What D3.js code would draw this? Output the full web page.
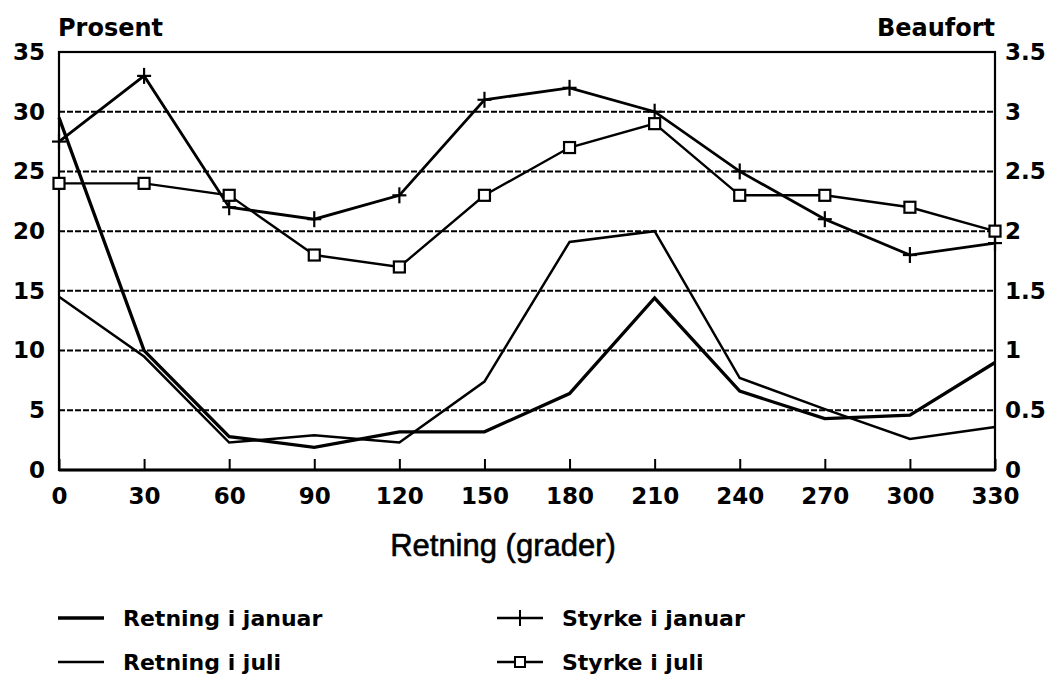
<!DOCTYPE html>
<html>
<head>
<meta charset="utf-8">
<script src="https://d3js.org/d3.v7.min.js"></script>
<style>
  html, body { margin: 0; padding: 0; background: #fff; }
  svg { display: block; }
  .tick text { font-family: "DejaVu Sans", sans-serif; font-weight: bold; font-size: 23px; fill: #000; }
</style>
</head>
<body>
<svg id="chart" width="1052" height="680"></svg>
<script>
// --- data ---
const directions = [0, 30, 60, 90, 120, 150, 180, 210, 240, 270, 300, 330];
const retningJanuar = [29.5, 10, 2.8, 1.9, 3.2, 3.2, 6.4, 14.4, 6.6, 4.3, 4.6, 9.0];
const retningJuli = [14.5, 9.5, 2.3, 2.9, 2.3, 7.4, 19.1, 20, 7.7, 5.1, 2.6, 3.6];
const styrkeJanuar = [2.75, 3.3, 2.2, 2.1, 2.3, 3.1, 3.2, 3.0, 2.5, 2.1, 1.8, 1.9];
const styrkeJuli = [2.4, 2.4, 2.3, 1.8, 1.7, 2.3, 2.7, 2.9, 2.3, 2.3, 2.2, 2.0];
const prosentTicks = [0, 5, 10, 15, 20, 25, 30, 35];
const beaufortTicks = [0, 0.5, 1, 1.5, 2, 2.5, 3, 3.5];
const gridValues = [5, 10, 15, 20, 25, 30];

const svg = d3.select("#chart");
const plotLeft = 59, plotRight = 995, plotTop = 52, plotBottom = 470;

const x = d3.scaleLinear().domain([0, 330]).range([plotLeft, plotRight]);
const yL = d3.scaleLinear().domain([0, 35]).range([plotBottom, plotTop]);
const yR = d3.scaleLinear().domain([0, 3.5]).range([plotBottom, plotTop]);

// dashed grid lines
svg.append("g")
  .selectAll("line")
  .data(gridValues)
  .join("line")
  .attr("x1", plotLeft).attr("x2", plotRight)
  .attr("y1", d => yL(d)).attr("y2", d => yL(d))
  .attr("stroke", "#000")
  .attr("stroke-width", 2)
  .attr("stroke-dasharray", "6,2");

// frame
svg.append("rect")
  .attr("x", plotLeft).attr("y", plotTop)
  .attr("width", plotRight - plotLeft).attr("height", plotBottom - plotTop)
  .attr("fill", "none").attr("stroke", "#000").attr("stroke-width", 2.2);
svg.append("line")
  .attr("x1", plotLeft).attr("x2", plotRight).attr("y1", plotBottom).attr("y2", plotBottom)
  .attr("stroke", "#000").attr("stroke-width", 3);

// axes
const axL = svg.append("g").attr("transform", `translate(${plotLeft},0)`)
  .call(d3.axisLeft(yL).tickValues(prosentTicks).tickSize(0).tickPadding(14));
const axR = svg.append("g").attr("transform", `translate(${plotRight},0)`)
  .call(d3.axisRight(yR).tickValues(beaufortTicks).tickSize(0).tickPadding(10)
    .tickFormat(d3.format("")));
const axB = svg.append("g").attr("transform", `translate(0,${plotBottom})`)
  .call(d3.axisBottom(x).tickValues(directions).tickSizeInner(-11).tickSizeOuter(0).tickPadding(18));
[axL, axR, axB].forEach(a => a.select(".domain").remove());
axB.selectAll(".tick line").attr("stroke", "#000").attr("stroke-width", 2);

// series lines
const pts = (vals, y) => vals.map((v, i) => [x(directions[i]), y(v)]);
const line = d3.line();

function drawLine(vals, y, w) {
  svg.append("path")
    .attr("d", line(pts(vals, y)))
    .attr("fill", "none")
    .attr("stroke", "#000")
    .attr("stroke-width", w)
    .attr("stroke-linejoin", "miter");
}
drawLine(retningJanuar, yL, 3.3);
drawLine(retningJuli, yL, 2.5);
drawLine(styrkeJanuar, yR, 2.8);
drawLine(styrkeJuli, yR, 2.4);

// plus markers
function plus(g, cx, cy) {
  g.append("line").attr("x1", cx - 7).attr("x2", cx + 7).attr("y1", cy).attr("y2", cy);
  g.append("line").attr("x1", cx).attr("x2", cx).attr("y1", cy - 8).attr("y2", cy + 8);
}
const plusG = svg.append("g").attr("stroke", "#000").attr("stroke-width", 2.2);
pts(styrkeJanuar, yR).forEach(p => plus(plusG, p[0], p[1]));

// square markers
svg.append("g")
  .selectAll("rect")
  .data(pts(styrkeJuli, yR))
  .join("rect")
  .attr("x", d => d[0] - 5.5).attr("y", d => d[1] - 5.5)
  .attr("width", 11).attr("height", 11)
  .attr("fill", "#fff").attr("stroke", "#000").attr("stroke-width", 2.2);

// titles
const bold = "DejaVu Sans, sans-serif";
svg.append("text").attr("x", 58).attr("y", 36)
  .attr("font-family", bold).attr("font-weight", "bold").attr("font-size", 24)
  .text("Prosent");
svg.append("text").attr("x", 995).attr("y", 36).attr("text-anchor", "end")
  .attr("font-family", bold).attr("font-weight", "bold").attr("font-size", 24)
  .text("Beaufort");
svg.append("text").attr("x", 503).attr("y", 556).attr("text-anchor", "middle")
  .attr("font-family", "Liberation Sans, Arial, sans-serif").attr("font-size", 31)
  .attr("stroke", "#000").attr("stroke-width", 0.6)
  .text("Retning (grader)");

// legend
const legend = [
  { label: "Retning i januar", col: 0, row: 0, w: 3.3, mark: null },
  { label: "Retning i juli", col: 0, row: 1, w: 2.5, mark: null },
  { label: "Styrke i januar", col: 1, row: 0, w: 2.4, mark: "plus" },
  { label: "Styrke i juli", col: 1, row: 1, w: 2.4, mark: "square" }
];
const colX = [58, 497], rowY = [618, 662];
legend.forEach(d => {
  const lx = colX[d.col], ly = rowY[d.row];
  svg.append("line").attr("x1", lx).attr("x2", lx + 46).attr("y1", ly).attr("y2", ly)
    .attr("stroke", "#000").attr("stroke-width", d.w);
  if (d.mark === "plus") {
    const g = svg.append("g").attr("stroke", "#000").attr("stroke-width", 2);
    plus(g, lx + 23, ly);
  } else if (d.mark === "square") {
    svg.append("rect").attr("x", lx + 18).attr("y", ly - 5).attr("width", 10).attr("height", 10)
      .attr("fill", "#fff").attr("stroke", "#000").attr("stroke-width", 2);
  }
  svg.append("text").attr("x", lx + 65).attr("y", ly + 8)
    .attr("font-family", bold).attr("font-weight", "bold").attr("font-size", 22)
    .text(d.label);
});
</script>
</body>
</html>
